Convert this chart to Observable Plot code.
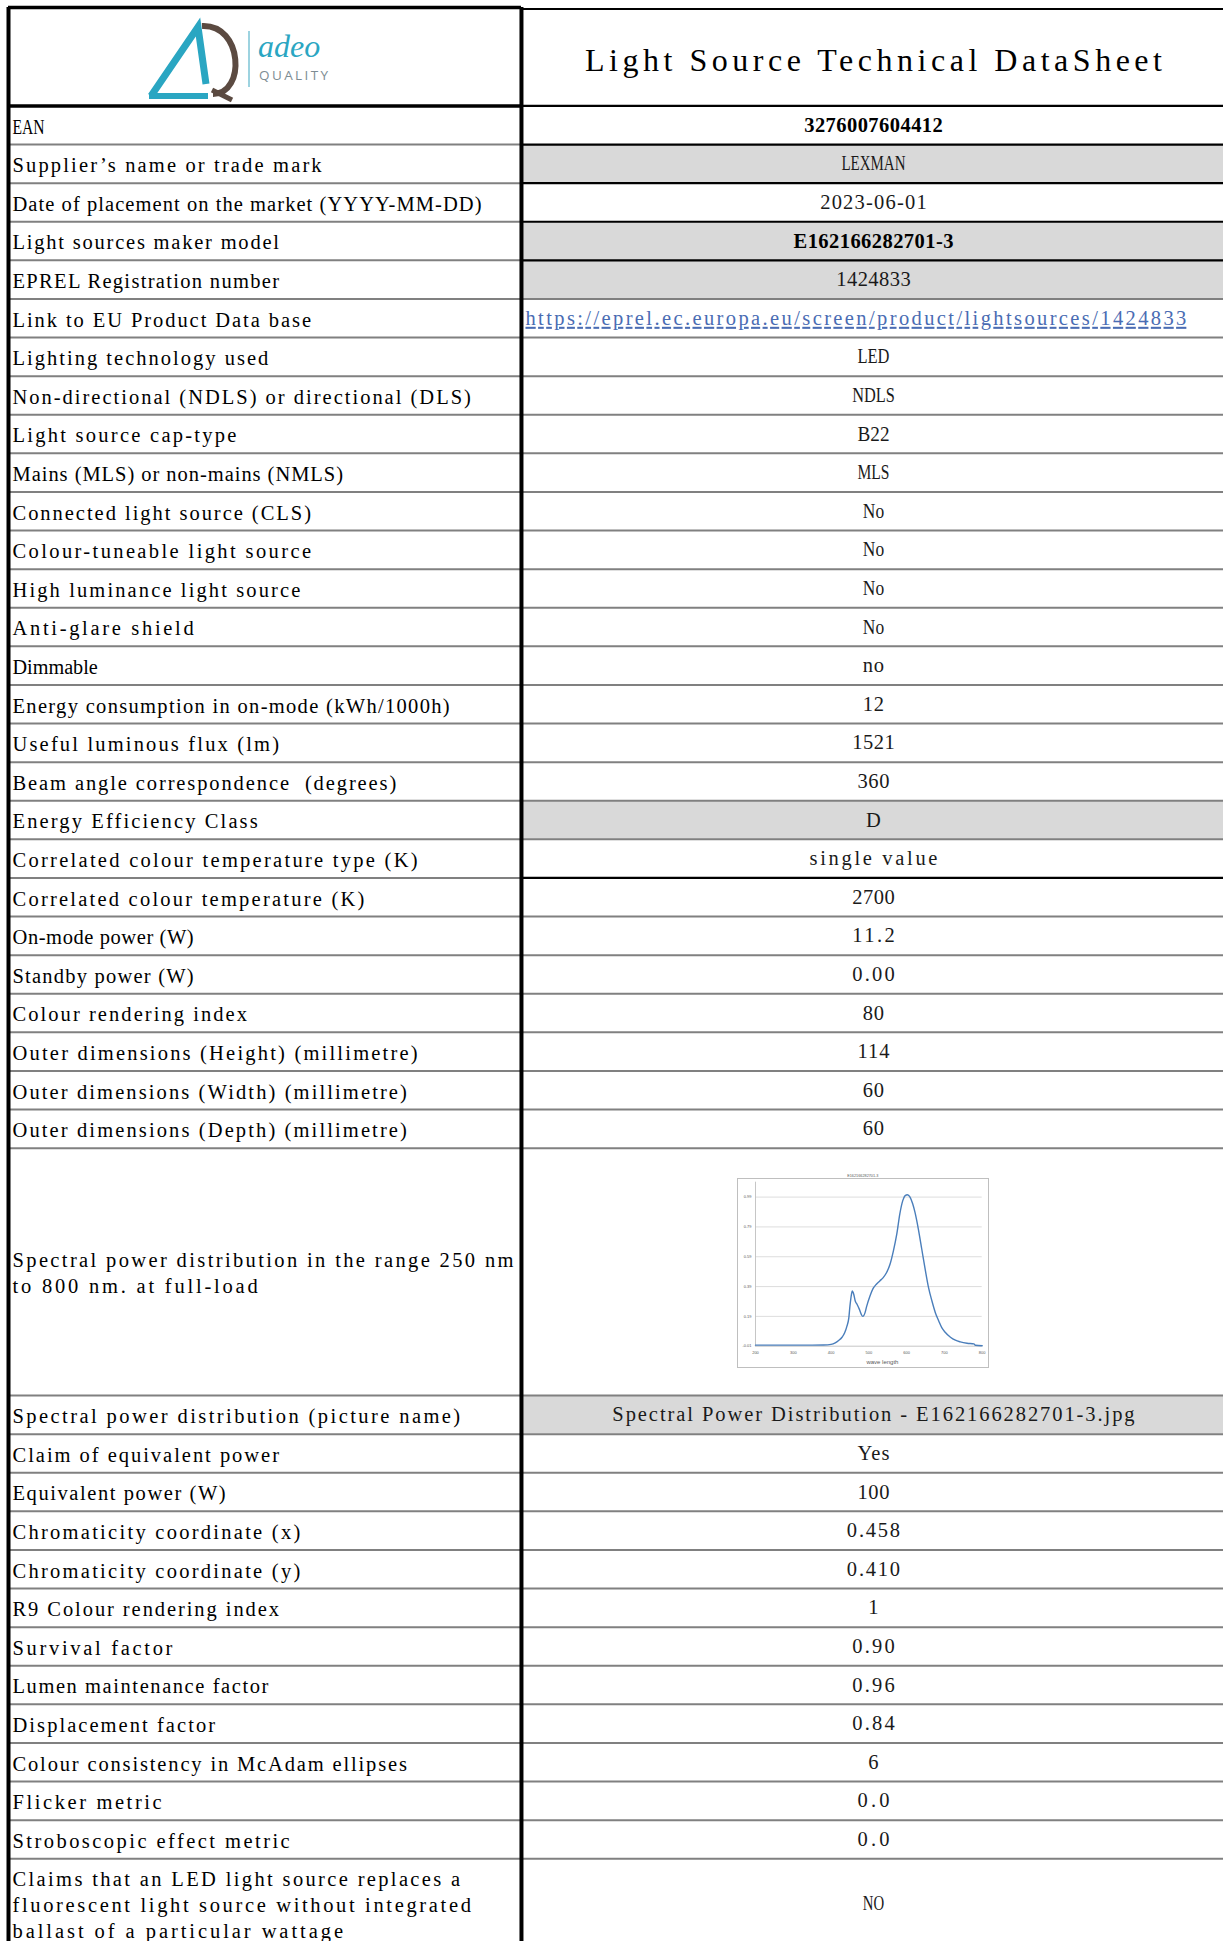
<!DOCTYPE html>
<html>
<head>
<meta charset="utf-8">
<script src="https://cdn.jsdelivr.net/npm/d3@7"></script>
<script src="https://cdn.jsdelivr.net/npm/@observablehq/plot@0.6"></script>
<style>
html, body { margin: 0; padding: 0; background: #fff; }
#wrap { position: relative; width: 1223px; height: 1941px; overflow: hidden; }
#table svg text { white-space: pre; }
#logo { position: absolute; left: 0; top: 0; }
#specBox { position: absolute; left: 737px; top: 1178px; width: 250px; height: 188px; border: 1px solid #bfbfbf; }
#spec { position: absolute; left: 737px; top: 1168px; }
</style>
</head>
<body>
<div id="wrap">
  <div id="table"></div>
  <svg id="logo" width="520" height="105" viewBox="0 0 520 105">
    <g fill="none" stroke-linejoin="miter">
      <path d="M151,96 L198,27 L206,84" stroke="#2aa6c2" stroke-width="7"/>
      <path d="M149,96 L208,96" stroke="#2aa6c2" stroke-width="6"/>
      <path d="M202,26 C243,24 246,94 213,94" stroke="#5b4a41" stroke-width="6"/>
      <path d="M212,90 L232,100" stroke="#5b4a41" stroke-width="5"/>
      <line x1="249" y1="31" x2="249" y2="87" stroke="#7cc5d6" stroke-width="1.5"/>
    </g>
    <text x="258" y="57" font-family="Liberation Serif" font-style="italic" font-size="32" fill="#2aa6c2">adeo</text>
    <text x="259" y="80" font-family="Open Sans" font-size="13.5" letter-spacing="2.4" fill="#7d8c93">QUALITY</text>
  </svg>
  <div id="specBox"></div>
  <div id="spec"></div>
</div>
<script>
// ---------------- DATA ----------------
const sheetTitle = "Light Source Technical DataSheet";

const rowLabels = [
  "EAN",
  "Supplier’s name or trade mark",
  "Date of placement on the market (YYYY-MM-DD)",
  "Light sources maker model",
  "EPREL Registration number",
  "Link to EU Product Data base",
  "Lighting technology used",
  "Non-directional (NDLS) or directional (DLS)",
  "Light source cap-type",
  "Mains (MLS) or non-mains (NMLS)",
  "Connected light source (CLS)",
  "Colour-tuneable light source",
  "High luminance light source",
  "Anti-glare shield",
  "Dimmable",
  "Energy consumption in on-mode (kWh/1000h)",
  "Useful luminous flux (lm)",
  "Beam angle correspondence  (degrees)",
  "Energy Efficiency Class",
  "Correlated colour temperature type (K)",
  "Correlated colour temperature (K)",
  "On-mode power (W)",
  "Standby power (W)",
  "Colour rendering index",
  "Outer dimensions (Height) (millimetre)",
  "Outer dimensions (Width) (millimetre)",
  "Outer dimensions (Depth) (millimetre)",
  "Spectral power distribution in the range 250 nm\nto 800 nm. at full-load",
  "Spectral power distribution (picture name)",
  "Claim of equivalent power",
  "Equivalent power (W)",
  "Chromaticity coordinate (x)",
  "Chromaticity coordinate (y)",
  "R9 Colour rendering index",
  "Survival factor",
  "Lumen maintenance factor",
  "Displacement factor",
  "Colour consistency in McAdam ellipses",
  "Flicker metric",
  "Stroboscopic effect metric",
  "Claims that an LED light source replaces a\nfluorescent light source without integrated\nballast of a particular wattage"
];

const rowValues = [
  "3276007604412",
  "LEXMAN",
  "2023-06-01",
  "E162166282701-3",
  "1424833",
  "https://eprel.ec.europa.eu/screen/product/lightsources/1424833",
  "LED",
  "NDLS",
  "B22",
  "MLS",
  "No",
  "No",
  "No",
  "No",
  "no",
  "12",
  "1521",
  "360",
  "D",
  "single value",
  "2700",
  "11.2",
  "0.00",
  "80",
  "114",
  "60",
  "60",
  null,
  "Spectral Power Distribution - E162166282701-3.jpg",
  "Yes",
  "100",
  "0.458",
  "0.410",
  "1",
  "0.90",
  "0.96",
  "0.84",
  "6",
  "0.0",
  "0.0",
  "NO"
];

const boldValues = ["3276007604412", "E162166282701-3"];
const shadedRows = ["Supplier’s name or trade mark", "Light sources maker model", "EPREL Registration number",
  "Energy Efficiency Class", "Spectral power distribution (picture name)"];
const darkTopRows = ["EAN", "Supplier’s name or trade mark", "Date of placement on the market (YYYY-MM-DD)",
  "Light sources maker model", "EPREL Registration number", "Correlated colour temperature (K)"];

// spectral power distribution (relative)
const chartTitle = "E162166282701-3";
const wavelength = [200, 250, 300, 350, 380, 400, 411, 420, 429, 436, 442, 447, 450, 454, 456, 460, 464, 469, 475, 480,
  484, 490, 494, 503, 511, 520, 529, 538, 547, 556, 565, 574, 582, 590, 596, 602, 609, 616, 622, 631,
  640, 649, 658, 667, 676, 685, 693, 702, 716, 729, 742, 760, 778, 782, 800];
const power = [-0.003, -0.003, -0.003, -0.003, -0.002, 0.002, 0.012, 0.028, 0.05, 0.08, 0.125, 0.18, 0.26, 0.338, 0.36, 0.338, 0.293, 0.27, 0.237, 0.203,
  0.19, 0.215, 0.255, 0.327, 0.376, 0.406, 0.428, 0.45, 0.484, 0.54, 0.63, 0.743, 0.878, 0.968, 1.0, 1.006, 0.99, 0.945, 0.889, 0.776,
  0.642, 0.507, 0.383, 0.293, 0.215, 0.159, 0.114, 0.084, 0.05, 0.03, 0.019, 0.01, 0.006, -0.004, -0.007];
const specYTicks = [-0.01, 0.19, 0.39, 0.59, 0.79, 0.99];
const specXTicks = [200, 300, 400, 500, 600, 700, 800];
const specXLabel = "wave length";

// ---------------- LAYOUT ----------------
const ROW_PX = 38.6;
const HEADER_UNITS = 2.55;
const SPLIT = 0.4215;
const FONT = "Liberation Serif";
const FS = 20.5;
const CELL_W = 10.66;   // width of one character cell (monospaced look of the sheet)
const TITLE_CELL_W = 18.03;

function rowUnits(label, value) {
  if (value === null) return 6.41;
  const n = label.split("\n").length;
  return n === 1 ? 1 : 0.2 + n * 0.71;
}

let acc = HEADER_UNITS;
const rows = rowLabels.map((label, i) => {
  const value = rowValues[i];
  const u = rowUnits(label, value);
  const r = {i, label, value, y0: acc, y1: acc + u, ym: acc + u / 2};
  acc += u;
  return r;
});
const T = acc + 0.2;
const midRight = (SPLIT + 1) / 2;

const isLink = v => v && v.startsWith("http");
const plainVals = rows.filter(r => r.value && !isLink(r.value) && !boldValues.includes(r.value));
const boldVals = rows.filter(r => r.value && boldValues.includes(r.value));
const linkVals = rows.filter(r => isLink(r.value));

const table = Plot.plot({
  width: 1223,
  height: 1941,
  margin: 0,
  style: {background: "#fff"},
  x: {domain: [0, 1], range: [8, 1225], axis: null},
  y: {domain: [0, T], range: [7, 7 + T * ROW_PX], axis: null},
  marks: [
    Plot.rect(rows.filter(r => shadedRows.includes(r.label)), {x1: SPLIT, x2: 1, y1: "y0", y2: "y1", fill: "#d9d9d9"}),
    // left column separators
    Plot.ruleY(rows.slice(1), {y: "y0", x1: 0, x2: SPLIT, stroke: "#808080", strokeWidth: 2}),
    // right column separators
    Plot.ruleY(rows.filter(r => !darkTopRows.includes(r.label)), {y: "y0", x1: SPLIT, x2: 1, stroke: "#808080", strokeWidth: 2}),
    Plot.ruleY(rows.filter(r => darkTopRows.includes(r.label)), {y: "y0", x1: SPLIT, x2: 1, stroke: "#000", strokeWidth: 2.2}),
    // header borders
    Plot.ruleY([0, HEADER_UNITS], {x1: 0, x2: SPLIT, stroke: "#000", strokeWidth: 3.6}),
    Plot.ruleY([0], {x1: SPLIT, x2: 1, dy: 1.5, stroke: "#000", strokeWidth: 2.2}),
    // vertical borders
    Plot.ruleX([0, SPLIT], {y1: 0, y2: T, stroke: "#000", strokeWidth: 4}),
    // title
    Plot.text([sheetTitle], {x: midRight, y: HEADER_UNITS / 2, dy: 4, text: d => d, fontFamily: FONT, fontSize: 32, fill: "#000"}),
    // labels
    Plot.text(rows, {x: 0, y: "ym", text: "label", textAnchor: "start", dx: 4, lineHeight: 1.27,
      fontFamily: FONT, fontSize: FS, fill: "#000"}),
    // values
    Plot.text(plainVals, {x: midRight, y: "ym", text: "value", fontFamily: FONT, fontSize: FS, fill: "#1a1a1a"}),
    Plot.text(boldVals, {x: midRight, y: "ym", text: "value", fontFamily: FONT, fontSize: FS, fontWeight: "bold", fill: "#000"}),
    Plot.text(linkVals, {x: SPLIT, y: "ym", dx: 4, text: "value", textAnchor: "start", fontFamily: FONT, fontSize: FS, fill: "#4a6cb3"})
  ]
});
document.getElementById("table").appendChild(table);

// give every text the character-cell width of the original sheet
d3.select(table).selectAll("text").each(function() {
  const t = this.textContent;
  const cw = t === sheetTitle ? TITLE_CELL_W : CELL_W;
  const spans = this.querySelectorAll("tspan");
  const targets = spans.length ? Array.from(spans) : [this];
  targets.forEach(el => {
    const n = el.textContent.length;
    const target = n * cw;
    const natural = el.getComputedTextLength();
    if (n > 1 && natural > 0) {
      el.setAttribute("textLength", target.toFixed(1));
      // narrow cells squeeze the glyphs (condensed capitals), wide cells open up the spacing
      el.setAttribute("lengthAdjust", natural > target ? "spacingAndGlyphs" : "spacing");
    }
  });
  if (t.startsWith("http")) this.setAttribute("text-decoration", "underline");
});

// ---------------- embedded spectral chart ----------------
const specData = wavelength.map((w, i) => ({w, p: power[i]}));
const SF = "Liberation Sans";
const spec = Plot.plot({
  width: 252,
  height: 200,
  marginLeft: 18,
  marginRight: 7.3,
  marginTop: 13.7,
  marginBottom: 22.3,
  style: {background: "transparent", overflow: "visible"},
  x: {domain: [200, 800], axis: null},
  y: {domain: [-0.01, 1.09], axis: null},
  marks: [
    Plot.ruleY(specYTicks.slice(1), {y: d => d, stroke: "#d9d9d9", strokeWidth: 0.9}),
    Plot.ruleY([-0.01], {y: d => d, stroke: "#bfbfbf", strokeWidth: 0.9}),
    Plot.ruleX([200], {x: d => d, y1: -0.01, y2: 1.09, stroke: "#bfbfbf", strokeWidth: 0.9}),
    Plot.line(specData, {x: "w", y: "p", stroke: "#4a7ebb", strokeWidth: 1.4, curve: "monotone-x"}),
    Plot.text(specYTicks, {x: 200, y: d => d, text: d => d.toFixed(2), textAnchor: "end", dx: -4, fontSize: 4, fontFamily: SF, fill: "#595959"}),
    Plot.text(specXTicks, {x: d => d, y: -0.01, text: d => String(d), dy: 7, fontSize: 4, fontFamily: SF, fill: "#595959"}),
    Plot.text([specXLabel], {x: 536, y: -0.01, text: d => d, dy: 15.5, fontSize: 6, fontFamily: SF, fill: "#595959"}),
    Plot.text([chartTitle], {frameAnchor: "top", text: d => d, dy: -7.7, dx: -6, fontSize: 3.8, fontFamily: SF, fill: "#595959"})
  ]
});
document.getElementById("spec").appendChild(spec);
</script>
</body>
</html>
